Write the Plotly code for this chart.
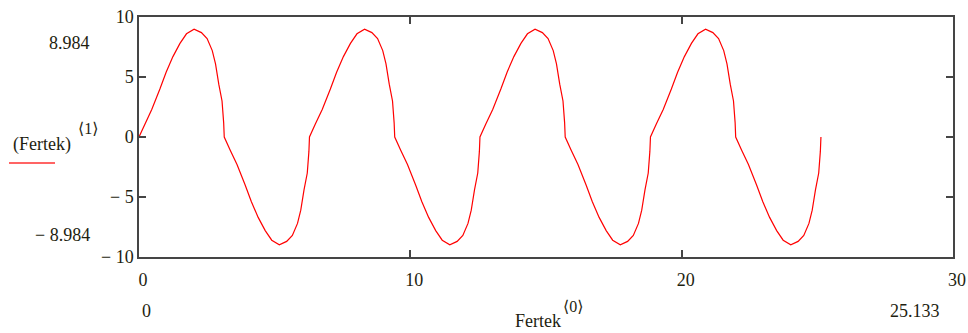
import plotly.graph_objects as go

# Fertek<0> values (x)
fertek_0 = [
    0, 0.22, 0.47, 0.77, 1.0, 1.25, 1.51, 1.75, 2.03, 2.3, 2.51, 2.7, 2.82, 2.94, 3.06, 3.12,
    3.142, 3.362, 3.612, 3.912, 4.142, 4.392, 4.652, 4.892, 5.172, 5.442, 5.652, 5.842, 5.962, 6.082, 6.202, 6.262,
    6.283, 6.503, 6.753, 7.053, 7.283, 7.533, 7.793, 8.033, 8.313, 8.583, 8.793, 8.983, 9.103, 9.223, 9.343, 9.403,
    9.425, 9.645, 9.895, 10.195, 10.425, 10.675, 10.935, 11.175, 11.455, 11.725, 11.935, 12.125, 12.245, 12.365, 12.485, 12.545,
    12.566, 12.786, 13.036, 13.336, 13.566, 13.816, 14.076, 14.316, 14.596, 14.866, 15.076, 15.266, 15.386, 15.506, 15.626, 15.686,
    15.708, 15.928, 16.178, 16.478, 16.708, 16.958, 17.218, 17.458, 17.738, 18.008, 18.218, 18.408, 18.528, 18.648, 18.768, 18.828,
    18.85, 19.07, 19.32, 19.62, 19.85, 20.1, 20.36, 20.6, 20.88, 21.15, 21.36, 21.55, 21.67, 21.79, 21.91, 21.97,
    21.991, 22.211, 22.461, 22.761, 22.991, 23.241, 23.501, 23.741, 24.021, 24.291, 24.501, 24.691, 24.811, 24.931, 25.051, 25.111,
    25.133,
]

# Fertek<1> values (y)
fertek_1 = [
    0, 1.1, 2.3, 4.0, 5.4, 6.7, 7.8, 8.6, 8.98, 8.7, 8.2, 7.2, 6.1, 4.4, 3.0, 1.2,
    0, -1.1, -2.3, -4.0, -5.4, -6.7, -7.8, -8.6, -8.98, -8.7, -8.2, -7.2, -6.1, -4.4, -3.0, -1.2,
    0, 1.1, 2.3, 4.0, 5.4, 6.7, 7.8, 8.6, 8.98, 8.7, 8.2, 7.2, 6.1, 4.4, 3.0, 1.2,
    0, -1.1, -2.3, -4.0, -5.4, -6.7, -7.8, -8.6, -8.98, -8.7, -8.2, -7.2, -6.1, -4.4, -3.0, -1.2,
    0, 1.1, 2.3, 4.0, 5.4, 6.7, 7.8, 8.6, 8.98, 8.7, 8.2, 7.2, 6.1, 4.4, 3.0, 1.2,
    0, -1.1, -2.3, -4.0, -5.4, -6.7, -7.8, -8.6, -8.98, -8.7, -8.2, -7.2, -6.1, -4.4, -3.0, -1.2,
    0, 1.1, 2.3, 4.0, 5.4, 6.7, 7.8, 8.6, 8.98, 8.7, 8.2, 7.2, 6.1, 4.4, 3.0, 1.2,
    0, -1.1, -2.3, -4.0, -5.4, -6.7, -7.8, -8.6, -8.98, -8.7, -8.2, -7.2, -6.1, -4.4, -3.0, -1.2,
    0,
]

y_tick_vals = [-10, -5, 0, 5, 10]
y_tick_text = ["\u2212 10", "\u2212 5", "0", "5", "10"]
x_tick_vals = [0, 10, 20, 30]
x_tick_text = ["0", "10", "20", "30"]
y_marker_labels = ["8.984", "\u2212 8.984"]
x_marker_labels = ["0", "25.133"]

W, H = 968, 333
L, R, T, B = 139, 15, 17, 76
PW, PH = W - L - R, H - T - B

def px(xp):
    return (xp - L) / PW

def py(yp):
    return (H - B - yp) / PH

FONT = "'Liberation Serif', 'Times New Roman', 'DejaVu Serif', serif"
TXT = "#1e1e10"
AX = "#454545"

fig = go.Figure()
fig.add_trace(go.Scatter(
    x=fertek_0, y=fertek_1, mode="lines",
    line=dict(color="#ff0000", width=1.2),
    showlegend=False, hoverinfo="skip",
))

fig.update_layout(
    template="none",
    width=W, height=H,
    margin=dict(l=L, r=R, t=T, b=B, pad=0, autoexpand=False),
    paper_bgcolor="white", plot_bgcolor="white",
    font=dict(family=FONT, size=18, color=TXT),
    xaxis=dict(
        range=[0, 30], tickvals=x_tick_vals, ticktext=x_tick_text,
        showgrid=False, zeroline=False, showline=True, mirror="allticks",
        linecolor=AX, linewidth=1.5, ticks="inside", ticklen=7, tickwidth=1.5,
        tickcolor=AX, ticklabelstandoff=6, ticklabelshift=4, automargin=False,
        tickfont=dict(family=FONT, size=18, color=TXT),
    ),
    yaxis=dict(
        range=[-10, 10], tickvals=y_tick_vals, ticktext=y_tick_text,
        showgrid=False, zeroline=False, showline=True, mirror="allticks",
        linecolor=AX, linewidth=1.5, ticks="inside", ticklen=7, tickwidth=1.5,
        tickcolor=AX, ticklabelstandoff=0, automargin=False,
        tickfont=dict(family=FONT, size=18, color=TXT),
    ),
)

ann = []
def add_text(text, xp, yp, xanchor="center", size=18):
    ann.append(dict(text=text, x=px(xp), y=py(yp), xref="paper", yref="paper",
                    xanchor=xanchor, yanchor="middle", showarrow=False,
                    font=dict(family=FONT, size=size, color=TXT)))

add_text(y_marker_labels[0], 92, 43, xanchor="right")
add_text(y_marker_labels[1], 92, 235, xanchor="right")
add_text("(Fertek)", 42, 144)
add_text("\u27e81\u27e9", 88, 128, size=16)
add_text(x_marker_labels[0], 146, 311)
add_text(x_marker_labels[1], 915, 311)
add_text("Fertek", 538, 321)
add_text("\u27e80\u27e9", 573, 306, size=16)
fig.update_layout(annotations=ann)

fig.add_shape(type="line", xref="paper", yref="paper",
              x0=px(9), x1=px(55), y0=py(163), y1=py(163),
              line=dict(color="#ff3030", width=1.5))

fig.write_html("out.html", config={"displayModeBar": False},
               post_script="document.body.style.margin='0';document.body.style.overflow='hidden';")
